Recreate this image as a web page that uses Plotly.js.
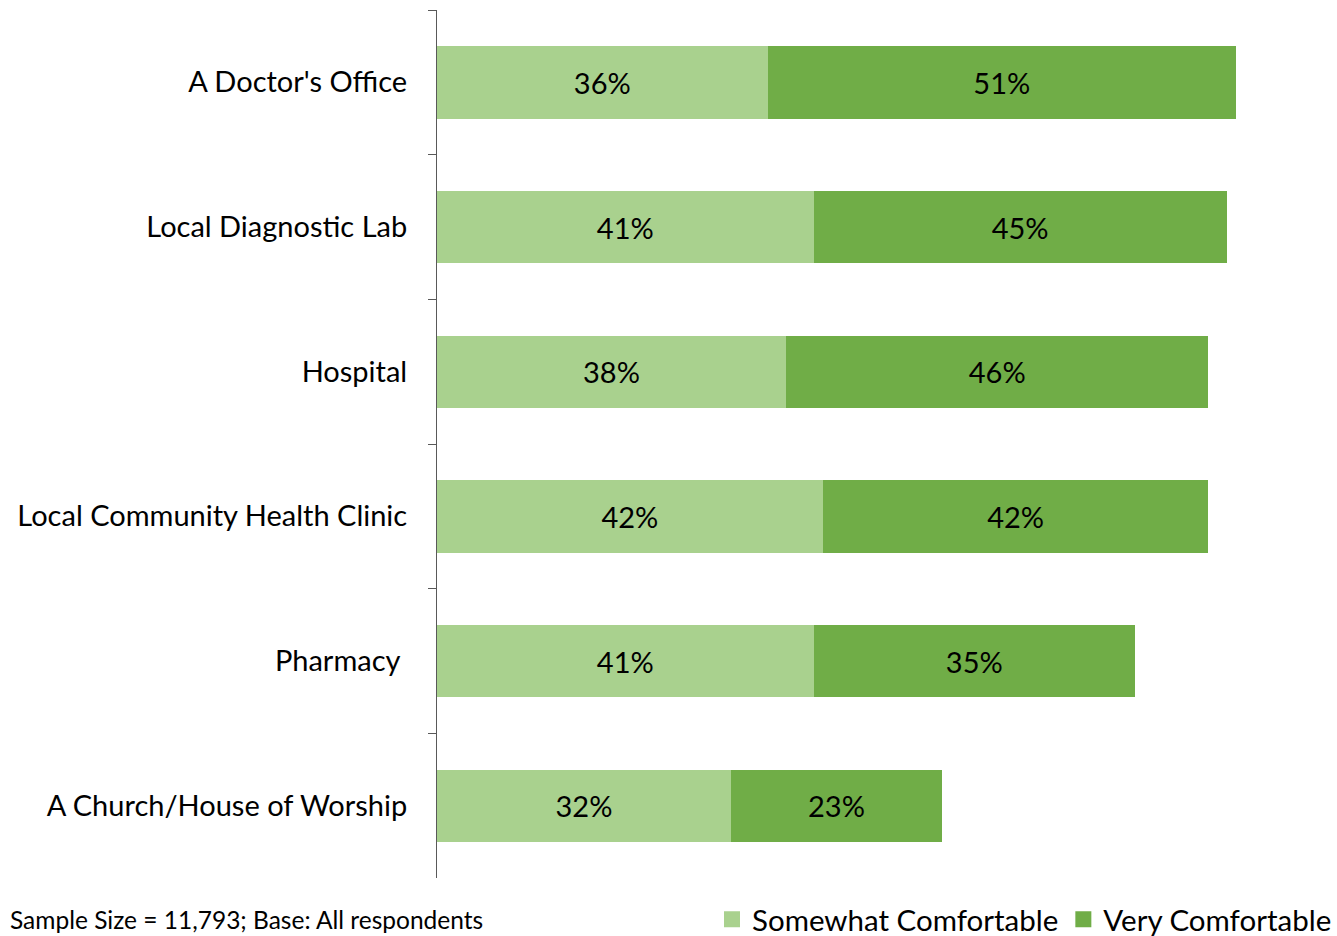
<!DOCTYPE html>
<html>
<head>
<meta charset="utf-8">
<script src="https://cdn.plot.ly/plotly-3.0.1.min.js"></script>
<style>html,body{margin:0;padding:0;background:#fff}#chart{width:1337px;height:936px}</style>
</head>
<body>
<div id="chart"></div>
<script>
var categories = ["A Doctor's Office", "Local Diagnostic Lab", "Hospital", "Local Community Health Clinic", "Pharmacy\u00a0", "A Church/House of Worship"];
var somewhat = [0.36, 0.41, 0.38, 0.42, 0.41, 0.32];
var very = [0.51, 0.45, 0.46, 0.42, 0.35, 0.23];
var seriesNames = ["Somewhat Comfortable", "Very Comfortable"];
var seriesColors = ['#A9D18E', '#70AD47'];
var noteText = "Sample Size = 11,793; Base: All respondents";

var FONT = "Lato, 'Noto Sans', sans-serif";
function barTrace(vals, name, color) {
  return {
    type: 'bar', orientation: 'h', y: categories, x: vals, name: name,
    marker: {color: color}, showlegend: false,
    texttemplate: '%{x:.0%}', textposition: 'inside', insidetextanchor: 'middle',
    textfont: {family: FONT, size: 29, color: '#000'}, constraintext: 'none',
    hoverinfo: 'skip'
  };
}
function legendTrace(name, color) {
  return {type: 'scatter', mode: 'markers', x: [null], y: [null], name: name,
    marker: {symbol: 'square', size: 19, color: color}, showlegend: true, hoverinfo: 'skip'};
}
var data = [
  barTrace(somewhat, seriesNames[0], seriesColors[0]),
  barTrace(very, seriesNames[1], seriesColors[1]),
  legendTrace(seriesNames[0], seriesColors[0]),
  legendTrace(seriesNames[1], seriesColors[1])
];
var layout = {
  width: 1337, height: 936,
  margin: {l: 437, r: 0, t: 10, b: 58, autoexpand: false},
  barmode: 'stack', bargap: 0.5,
  paper_bgcolor: '#fff', plot_bgcolor: '#fff',
  font: {family: FONT, color: '#000'},
  xaxis: {range: [0, 0.98], visible: false, fixedrange: true},
  yaxis: {autorange: 'reversed', showline: true, linecolor: '#595959', linewidth: 1,
    ticks: 'outside', tickson: 'boundaries', ticklen: 8, tickcolor: '#595959',
    showgrid: false, zeroline: false, tickfont: {family: FONT, size: 29, color: '#000'},
    ticklabelstandoff: 23, automargin: false},
  showlegend: true,
  legend: {orientation: 'h', x: 1, xanchor: 'right', y: -0.048, yanchor: 'middle',
    font: {family: FONT, size: 29.5, color: '#000'}, traceorder: 'normal', itemwidth: 30},
  annotations: [{text: noteText, xref: 'paper', yref: 'paper', x: -437/900, y: -0.048,
    xanchor: 'left', yanchor: 'middle', showarrow: false, xshift: 8,
    font: {family: FONT, size: 24.5, color: '#000'}}]
};
Plotly.newPlot('chart', data, layout, {displayModeBar: false, staticPlot: true});
</script>
</body>
</html>
